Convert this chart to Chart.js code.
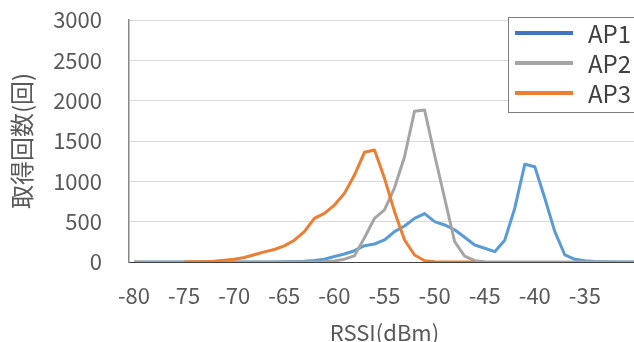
<!DOCTYPE html>
<html>
<head>
<meta charset="utf-8">
<script src="https://cdn.jsdelivr.net/npm/chart.js@4/dist/chart.umd.min.js"></script>
<style>
  html, body { margin: 0; padding: 0; overflow: hidden; background: #fff; }
  #wrap { width: 634px; height: 342px; overflow: hidden; }
</style>
</head>
<body>
<div id="wrap"><canvas id="rssiChart" width="660" height="342"></canvas></div>
<script>
// RSSI histogram per access point
const rssi = [-80, -79, -78, -77, -76, -75, -74, -73, -72, -71,
  -70, -69, -68, -67, -66, -65, -64, -63, -62, -61,
  -60, -59, -58, -57, -56, -55, -54, -53, -52, -51,
  -50, -49, -48, -47, -46, -45, -44, -43, -42, -41,
  -40, -39, -38, -37, -36, -35, -34, -33, -32, -31, -30];

const ap1 = [0, 0, 0, 0, 0, 0, 0, 0, 0, 0,
  0, 0, 0, 0, 0, 2, 5, 10, 18, 35,
  68, 99, 140, 202, 223, 273, 376, 446, 541, 600,
  500, 459, 400, 306, 211, 170, 128, 270, 667, 1211,
  1181, 790, 376, 87, 33, 16, 5, 2, 0, 0, 0];

const ap2 = [0, 0, 0, 0, 0, 0, 0, 0, 0, 0,
  0, 0, 0, 0, 0, 0, 0, 0, 0, 3,
  12, 35, 76, 300, 541, 645, 920, 1305, 1870, 1884,
  1326, 790, 252, 74, 16, 2, 0, 0, 0, 0,
  0, 0, 0, 0, 0, 0, 0, 0, 0, 0, 0];

const ap3 = [null, null, null, null, null, 1, 2, 4, 8, 22,
  35, 55, 90, 125, 155, 200, 270, 376, 541, 603,
  706, 851, 1078, 1360, 1388, 1037, 624, 273, 87, 16,
  4, 1, 0, 0, 0, null, null, null, null, null,
  null, null, null, null, null, null, null, null, null, null, null];

const xTicks = [-80, -75, -70, -65, -60, -55, -50, -45, -40, -35];
const yTicks = [0, 500, 1000, 1500, 2000, 2500, 3000];

const toPoints = (arr) => arr.map((v, i) => ({ x: rssi[i], y: v }));

const FONT = '"Noto Sans CJK JP", "Noto Sans", sans-serif';
const TXT = '#595959';

const series = (label, data, color, legendColor, order) => ({
  label: label,
  data: toPoints(data),
  borderColor: color,
  legendColor: legendColor,
  borderWidth: 3,
  pointRadius: 0,
  tension: 0,
  fill: false,
  spanGaps: false,
  borderJoinStyle: 'round',
  order: order
});

// legend box sitting inside the plot, top right
const boxLegend = {
  id: 'boxLegend',
  afterDraw(chart) {
    const ctx = chart.ctx;
    ctx.save();
    ctx.fillStyle = '#fff';
    ctx.fillRect(508, 17, 200, 95);
    ctx.strokeStyle = '#7F7F7F';
    ctx.lineWidth = 1;
    ctx.strokeRect(508.5, 17.5, 200, 95);
    ctx.font = '24px ' + FONT;
    ctx.textBaseline = 'middle';
    chart.data.datasets.forEach((ds, i) => {
      const y = 33 + i * 30;
      ctx.strokeStyle = ds.legendColor;
      ctx.lineWidth = 4;
      ctx.beginPath();
      ctx.moveTo(515, y);
      ctx.lineTo(573, y);
      ctx.stroke();
      ctx.fillStyle = '#404040';
      ctx.fillText(ds.label, 588, y + 1);
    });
    ctx.restore();
  }
};

new Chart(document.getElementById('rssiChart'), {
  type: 'line',
  data: {
    datasets: [
      series('AP1', ap1, '#5B9BD5', '#4472C4', 3),
      series('AP2', ap2, '#A5A5A5', '#A5A5A5', 2),
      series('AP3', ap3, '#ED7D31', '#ED7D31', 1)
    ]
  },
  options: {
    responsive: false,
    devicePixelRatio: 1,
    animation: false,
    layout: { padding: { left: 0, right: 20, top: 20, bottom: 0 } },
    plugins: {
      legend: { display: false },
      tooltip: { enabled: false }
    },
    scales: {
      x: {
        type: 'linear',
        min: -80.5,
        max: -29.5,
        afterFit(scale) { scale.height = 80; },
        afterBuildTicks(scale) { scale.ticks = xTicks.map(v => ({ value: v })); },
        grid: { display: false, drawTicks: false },
        border: { display: true, color: '#404040', width: 1 },
        ticks: { color: TXT, font: { family: FONT, size: 22 }, padding: 20, maxRotation: 0, autoSkip: false, callback: (v) => String(v) },
        title: {
          display: true,
          text: 'RSSI(dBm)',
          color: TXT,
          font: { family: FONT, size: 22, lineHeight: 1 },
          padding: { top: 0, bottom: -2 }
        }
      },
      y: {
        min: 0,
        max: 3000,
        afterFit(scale) {
          scale.width = 129;
          scale.paddingTop = 0;
          scale.paddingBottom = 0;
        },
        afterBuildTicks(scale) { scale.ticks = yTicks.map(v => ({ value: v })); },
        grid: {
          color: (c) => (c.tick && c.tick.value === 0) ? 'rgba(0,0,0,0)' : '#D9D9D9',
          drawTicks: false
        },
        border: { display: true, color: '#868686', width: 1.5 },
        ticks: { color: TXT, font: { family: FONT, size: 22 }, padding: 27, callback: (v) => String(v) },
        title: {
          display: true,
          text: '取得回数(回)',
          color: TXT,
          font: { family: FONT, size: 24, lineHeight: 1 },
          padding: { top: 10, bottom: 0 }
        }
      }
    }
  },
  plugins: [boxLegend]
});
</script>
</body>
</html>
